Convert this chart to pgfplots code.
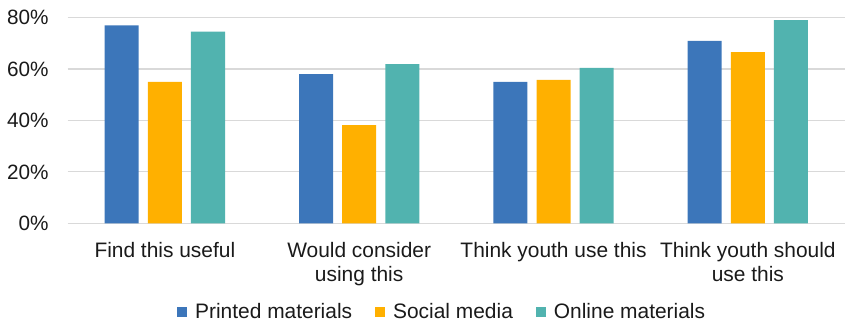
\documentclass[border=0pt]{standalone}
\usepackage{pgfplots}
\pgfplotsset{compat=1.18}
\usepackage{fontspec}
\setmainfont{Liberation Sans}
\definecolor{cPrint}{HTML}{3C76BA}
\definecolor{cSocial}{HTML}{FFB000}
\definecolor{cOnline}{HTML}{51B3AF}
\definecolor{cGrid}{HTML}{D9D9D9}
\definecolor{cText}{HTML}{1A1A1A}
\begin{document}
\begin{tikzpicture}
\begin{axis}[
  scale only axis,
  width=777.3bp, height=205.6bp,
  ymin=0, ymax=80,
  xmin=-0.5, xmax=3.5,
  ytick={0,20,40,60,80},
  yticklabel={\pgfmathprintnumber{\tick}\%},
  /pgf/number format/assume math mode=true,
  font=\fontsize{20.8}{23.5}\selectfont,
  ticklabel style={text=cText},
  yticklabel style={anchor=east, inner sep=0pt, xshift=-19bp},
  xtick={0,1,2,3},
  xticklabels={Find this useful, Would consider\\using this, Think youth use this, Think youth should\\use this},
  xticklabel style={align=center, anchor=north, inner sep=0pt, yshift=-19bp, font=\fontsize{21}{23.5}\selectfont},
  major tick length=0pt,
  axis line style={draw=none},
  ymajorgrids,
  grid style={cGrid, line width=1.2bp},
  ybar,
  bar width=0.175,
  legend columns=3,
  legend style={draw=none, at={(0.1406,-0.43)}, anchor=west, inner sep=0pt, font=\fontsize{21}{24}\selectfont, text=cText,
    /tikz/every even column/.append style={column sep=21bp},
    /tikz/every odd column/.append style={column sep=6bp},
    nodes={inner sep=2bp}},
  legend image code/.code={\fill[#1] (0bp,-5bp) rectangle (10bp,5bp);},
]
\addplot[fill=cPrint, draw=none, bar shift=-0.222] coordinates {(0,77) (1,58) (2,55) (3,71)};
\addplot[fill=cSocial, draw=none, bar shift=0] coordinates {(0,55) (1,38.2) (2,55.8) (3,66.6)};
\addplot[fill=cOnline, draw=none, bar shift=0.222] coordinates {(0,74.6) (1,61.9) (2,60.5) (3,79.1)};
\legend{Printed materials, Social media, Online materials}
\end{axis}
\pgfresetboundingbox
\path (current axis.south west) ++(-67.7bp,-99.7bp) coordinate (bbA);
\path (current axis.north east) ++(0bp,17.7bp) coordinate (bbB);
\useasboundingbox (bbA) rectangle (bbB);
\end{tikzpicture}
\end{document}
